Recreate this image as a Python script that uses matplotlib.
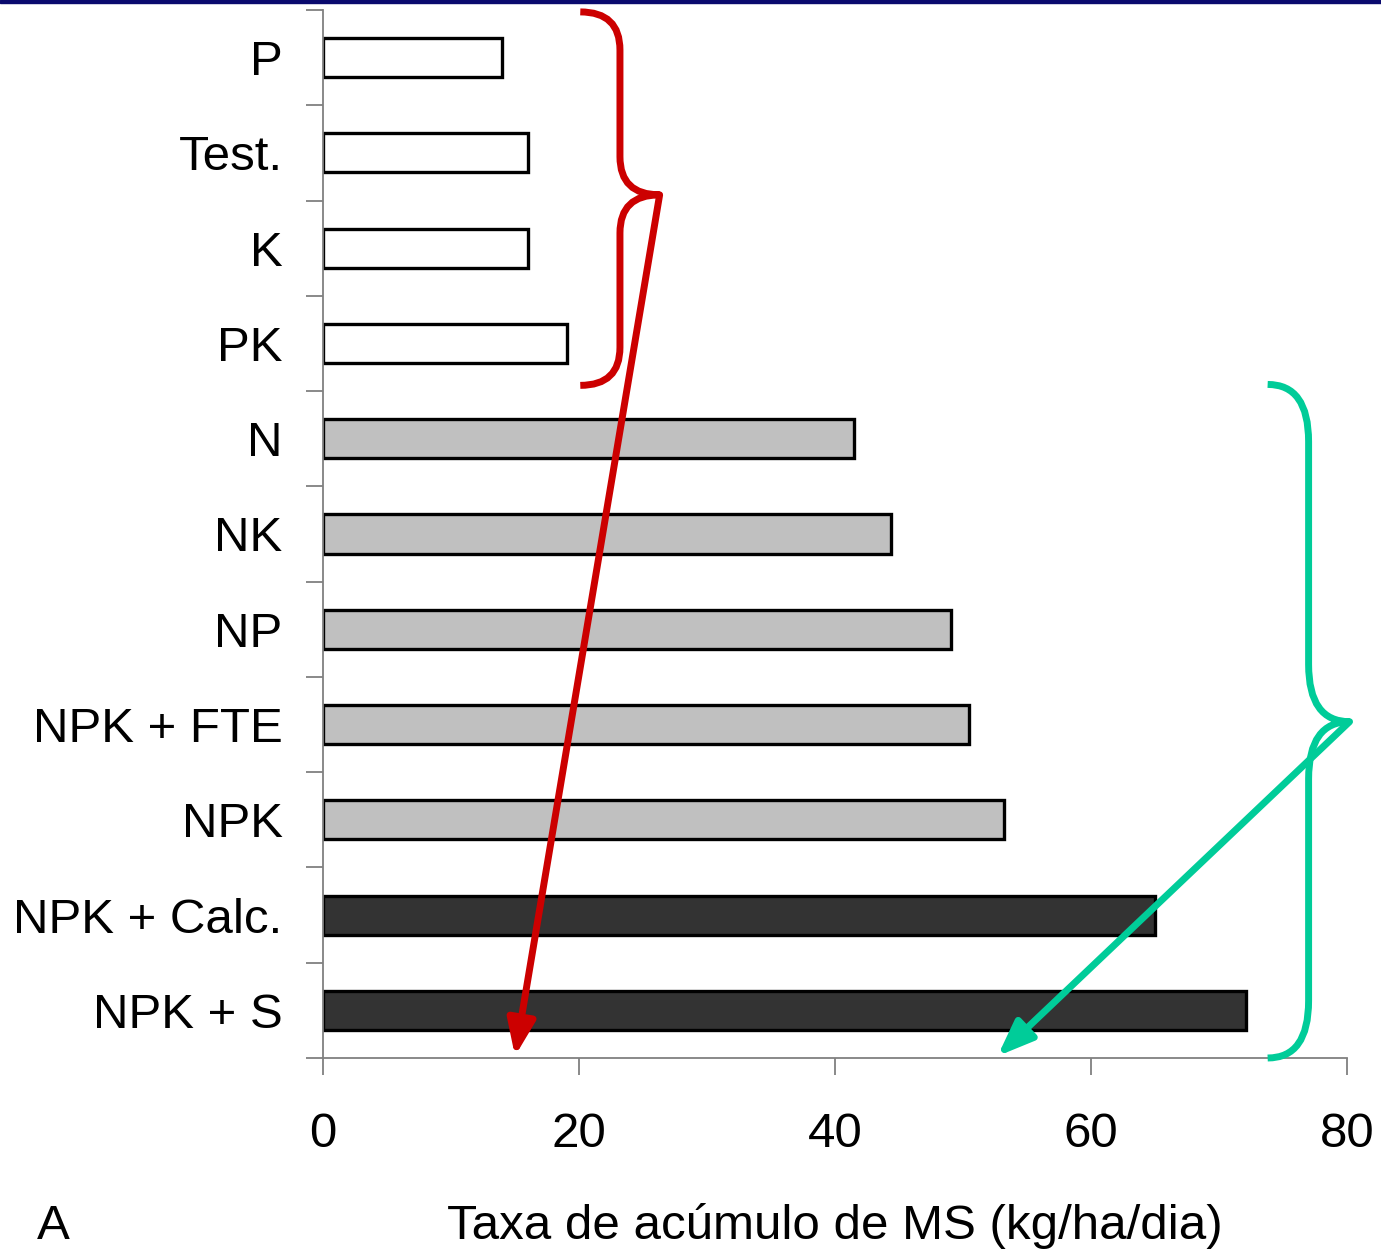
import matplotlib.pyplot as plt
import numpy as np
from matplotlib.path import Path
from matplotlib.patches import PathPatch, Rectangle

plt.rcParams['font.family'] = ['Liberation Sans', 'DejaVu Sans']

# treatments, top to bottom
tratamentos = ['P', 'Test.', 'K', 'PK', 'N', 'NK', 'NP', 'NPK + FTE', 'NPK',
               'NPK + Calc.', 'NPK + S']
taxa = [14.0, 16.0, 16.0, 19.1, 41.5, 44.4, 49.1, 50.5, 53.2, 65.0, 72.1]
grupo = ['sem N'] * 4 + ['com N'] * 5 + ['corretivo'] * 2
cores = {'sem N': 'white', 'com N': '#c0c0c0', 'corretivo': '#333333'}

fig = plt.figure(figsize=(13.81, 12.53), dpi=100)
ax = fig.add_axes([323 / 1381, 1 - 1058 / 1253, 1024 / 1381, 1048 / 1253])

y = np.arange(len(tratamentos))
ax.barh(y, taxa, height=0.41, color=[cores[g] for g in grupo],
        edgecolor='black', linewidth=2.4, zorder=2)

ax.set_xlim(0, 80)
ax.set_ylim(len(tratamentos) - 0.5, -0.5)
ax.set_xticks([0, 20, 40, 60, 80])
ax.set_yticks(y)
ax.set_yticklabels(tratamentos)
ax.set_yticks(np.arange(len(tratamentos) + 1) - 0.5, minor=True)
ax.tick_params(axis='y', which='major', length=0, pad=29, labelsize=35.5)
ax.tick_params(axis='y', which='minor', length=12, width=1.3, color='#808080')
ax.tick_params(axis='x', length=12, width=1.3, color='#808080', pad=27,
               labelsize=35.5)
for s in ['top', 'right']:
    ax.spines[s].set_visible(False)
for s in ['left', 'bottom']:
    ax.spines[s].set_color('#808080')
    ax.spines[s].set_linewidth(1.3)


def chave(x_end, x_mid, x_tip, y_top, y_tip, y_bot, r, cor):
    # curly brace opening to the left, tip pointing right
    verts = [(x_end, y_top), (x_mid, y_top), (x_mid, y_top + r),
             (x_mid, y_tip - r), (x_mid, y_tip), (x_tip, y_tip),
             (x_mid, y_tip), (x_mid, y_tip + r),
             (x_mid, y_bot - r), (x_mid, y_bot), (x_end, y_bot)]
    codes = [Path.MOVETO, Path.CURVE3, Path.CURVE3,
             Path.LINETO, Path.CURVE3, Path.CURVE3,
             Path.CURVE3, Path.CURVE3,
             Path.LINETO, Path.CURVE3, Path.CURVE3]
    ax.add_patch(PathPatch(Path(verts, codes), facecolor='none', edgecolor=cor,
                           lw=5, capstyle='butt', clip_on=False, zorder=4))


def seta(x0, y0, x1, y1, cor):
    ax.annotate('', xy=(x1, y1), xytext=(x0, y0), annotation_clip=False,
                arrowprops=dict(arrowstyle='-|>,head_length=0.9,head_width=0.35',
                                mutation_scale=24, color=cor, lw=5,
                                shrinkA=0, shrinkB=0),
                zorder=5)


vermelho = '#cc0000'
verde = '#00cc99'
chave(20.1, 23.2, 26.3, -0.48, 1.44, 3.44, 0.4, vermelho)
seta(26.3, 1.44, 15.0, 10.48, vermelho)
chave(73.8, 77.0, 80.2, 3.43, 6.97, 10.5, 0.6, verde)
seta(80.2, 6.97, 52.7, 10.48, verde)

fig.text(835 / 1381, 1 - 1239 / 1253, 'Taxa de acúmulo de MS (kg/ha/dia)',
         ha='center', va='baseline', fontsize=35.5)
fig.text(37 / 1381, 1 - 1239 / 1253, 'A', ha='left', va='baseline', fontsize=35.5)

# navy band along the top edge
fig.patches.append(Rectangle((0, 1 - 3 / 1253), 1, 3 / 1253, transform=fig.transFigure,
                             color='#0a0a6e', zorder=0))

fig.savefig('out.png', dpi=100)
